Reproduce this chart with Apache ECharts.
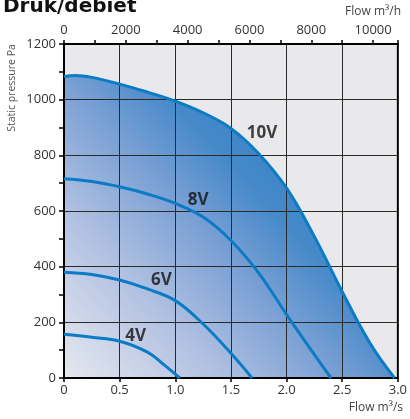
<!DOCTYPE html>
<html>
<head>
<meta charset="utf-8">
<script src="https://cdn.jsdelivr.net/npm/echarts@6/dist/echarts.min.js"></script>
<style>
  html, body { margin: 0; padding: 0; background: #fff; }
  #chart { width: 410px; height: 419px; }
</style>
</head>
<body>
<div id="chart"></div>
<script>
// Fan curves: static pressure (Pa) against flow (m³/s) for each control voltage
const curve10V = [[0,1083],[0.1,1087],[0.25,1080],[0.5,1056],[0.75,1027],[1.0,995],[1.25,953],[1.5,897],[1.75,806],[2.0,682],[2.25,508],[2.5,310],[2.75,125],[2.97,0]];
const curve8V  = [[0,716],[0.25,706],[0.5,687],[0.75,661],[1.0,627],[1.25,578],[1.5,494],[1.75,377],[2.0,228],[2.25,84],[2.4,0]];
const curve6V  = [[0,380],[0.25,372],[0.5,352],[0.75,320],[1.0,278],[1.25,194],[1.5,89],[1.69,0]];
const curve4V  = [[0,157],[0.25,146],[0.5,132],[0.75,93],[0.9,47],[1.04,0]];

const voltageLabels = ['10V', '8V', '6V', '4V'];
const labelAnchors = [[1.78, 880], [1.205, 640], [0.875, 352], [0.643, 151]];

const flowTicksM3s = { min: 0, max: 3, step: 0.5 };
const flowTicksM3h = { min: 0, max: 10800, step: 2000 };
const pressureTicks = { min: 0, max: 1200, step: 200 };

const FONT = '"Open Sans", "DejaVu Sans", sans-serif';
const LINE_BLUE = '#0b7bc6';
const SMOOTH = 0.4;

const chart = echarts.init(document.getElementById('chart'), null, { renderer: 'canvas' });

const lineSeries = (name, data) => ({
  name, type: 'line', data, xAxisIndex: 0, yAxisIndex: 0,
  smooth: SMOOTH, showSymbol: false, symbol: 'none',
  lineStyle: { color: LINE_BLUE, width: 3 }, z: 5, silent: true
});

chart.setOption({
  animation: false,
  grid: {
    left: 64, right: 10, top: 44, bottom: 41,
    show: true, backgroundColor: '#e9e9ec', borderColor: '#000', borderWidth: 2
  },
  xAxis: [
    {
      type: 'value', position: 'bottom',
      min: flowTicksM3s.min, max: flowTicksM3s.max, interval: flowTicksM3s.step,
      z: 3,
      axisLine: { show: true, onZero: false, lineStyle: { color: '#000', width: 2 } },
      axisTick: { show: true, length: 4, lineStyle: { color: '#000', width: 1.5 } },
      axisLabel: {
        color: '#333', fontFamily: FONT, fontSize: 13, margin: 6,
        formatter: v => v === 0 ? '0' : v.toFixed(1)
      },
      splitLine: { show: true, lineStyle: { color: '#2a2a2a', width: 1 } }
    },
    {
      type: 'value', position: 'top',
      min: flowTicksM3h.min, max: flowTicksM3h.max, interval: flowTicksM3h.step,
      z: 3,
      axisLine: { show: true, onZero: false, lineStyle: { color: '#000', width: 2 } },
      axisTick: { show: true, length: 4, lineStyle: { color: '#000', width: 1.5 } },
      minorTick: { show: true, splitNumber: 2, length: 4, lineStyle: { color: '#000', width: 1.5 } },
      axisLabel: {
        color: '#333', fontFamily: FONT, fontSize: 13, margin: 7,
        showMaxLabel: false,
        formatter: v => String(v)
      },
      splitLine: { show: false }
    }
  ],
  yAxis: {
    type: 'value',
    min: pressureTicks.min, max: pressureTicks.max, interval: pressureTicks.step,
    z: 3,
    axisLine: { show: true, onZero: false, lineStyle: { color: '#000', width: 2 } },
    axisTick: { show: true, length: 5, lineStyle: { color: '#000', width: 1.5 } },
    minorTick: { show: true, splitNumber: 2, length: 5, lineStyle: { color: '#000', width: 1.5 } },
    axisLabel: { color: '#333', fontFamily: FONT, fontSize: 13, margin: 8, formatter: v => String(v) },
    splitLine: { show: true, lineStyle: { color: '#2a2a2a', width: 1 } }
  },
  graphic: [
    {
      type: 'text', left: 3, top: -3, z: 10,
      style: { text: 'Druk/debiet', font: 'bold 20px "DejaVu Sans", sans-serif', fill: '#111' }
    },
    {
      type: 'text', right: 9, top: 6, z: 10,
      style: { text: 'Flow m³/h', font: '12px ' + FONT, fill: '#444' }
    },
    {
      type: 'text', right: 7, top: 402, z: 10,
      style: { text: 'Flow m³/s', font: '12px ' + FONT, fill: '#444' }
    },
    {
      type: 'text', x: 12, y: 88, rotation: Math.PI / 2, z: 10,
      style: {
        text: 'Static pressure Pa', font: '10.5px ' + FONT, fill: '#555',
        textAlign: 'center', textVerticalAlign: 'middle'
      }
    }
  ],
  series: [
    {
      name: 'fill10V', type: 'line', data: curve10V, xAxisIndex: 0, yAxisIndex: 0,
      smooth: SMOOTH, showSymbol: false, symbol: 'none',
      lineStyle: { width: 0 }, z: 1, silent: true,
      areaStyle: {
        origin: 'start', opacity: 1,
        color: new echarts.graphic.LinearGradient(0, 1, 1, 0, [
          { offset: 0, color: '#e6e8ef' },
          { offset: 0.25, color: '#b3c2e2' },
          { offset: 0.45, color: '#7aa0d4' },
          { offset: 0.6, color: '#4589c9' },
          { offset: 1, color: '#2478c2' }
        ])
      }
    },
    lineSeries('10V', curve10V),
    lineSeries('8V', curve8V),
    lineSeries('6V', curve6V),
    lineSeries('4V', curve4V),
    {
      name: 'labels', type: 'scatter', xAxisIndex: 0, yAxisIndex: 0,
      symbolSize: 0, z: 6, silent: true,
      data: voltageLabels.map((t, i) => [labelAnchors[i][0], labelAnchors[i][1], t]),
      label: {
        show: true, position: 'inside',
        formatter: p => p.value[2],
        color: '#111', fontFamily: '"Open Sans", sans-serif', fontWeight: 'bold', fontSize: 17
      }
    }
  ]
});
</script>
</body>
</html>
